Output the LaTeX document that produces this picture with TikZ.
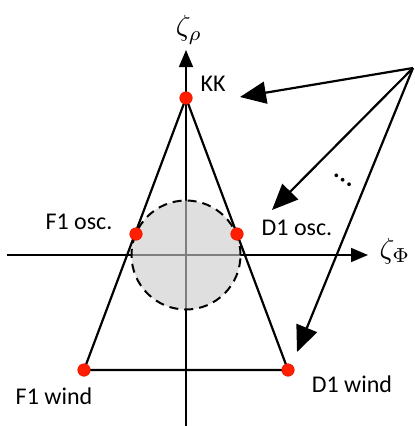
\documentclass[tikz,border=0pt]{standalone}
\usepackage{graphicx}
\usepackage{fontspec}
\setmainfont{Carlito}
\usetikzlibrary{arrows.meta}
\definecolor{dotred}{RGB}{255,30,0}
\definecolor{dotrim}{RGB}{235,20,0}
\definecolor{circfill}{gray}{0.8}
\begin{document}
\begin{tikzpicture}[x=1pt,y=-1pt,
  axis/.style={line width=1.6pt,-{Triangle[length=17pt,width=14pt]}},
  edge/.style={line width=2.2pt,line join=round},
  ptr/.style={line width=2.2pt,-{Triangle[length=26pt,width=22pt]}},
  dot/.style={circle,fill=dotred,draw=dotrim,line width=0.6pt,inner sep=0pt,minimum size=12.5pt},
  lab/.style={font=\fontsize{24}{28}\selectfont,inner sep=0pt},
  mlab/.style={inner sep=0pt}]
\useasboundingbox (0,0) rectangle (415,426);
% axes
\coordinate (ybot) at (186,426);
\coordinate (ytop) at (186,50);
\coordinate (xl) at (7,255);
\coordinate (xr) at (368,255);
\draw[axis] (ybot) -- (ytop);
\draw[axis] (xl) -- (xr);
\node[mlab] (zr) at (189,30) {\scalebox{2.9}{$\zeta_\rho$}};
\node[mlab] (zf) at (395,251) {\scalebox{2.9}{$\zeta_\Phi$}};
% circle
\coordinate (O) at (186,255);
\fill[circfill,opacity=0.62] (O) circle (54.5pt);
\draw[line width=2pt,dash pattern=on 9pt off 6pt] (O) circle (54.5pt);
% triangle
\coordinate (kkc) at (186,98);
\coordinate (f1wc) at (84,370);
\coordinate (d1wc) at (288,370);
\draw[edge] (kkc) -- (f1wc) -- (d1wc) -- cycle;
% points
\node[dot] (kk) at (kkc) {};
\node[dot] (f1o) at (136,234) {};
\node[dot] (d1o) at (237,234) {};
\node[dot] (f1w) at (f1wc) {};
\node[dot] (d1w) at (d1wc) {};
% labels
\node[lab] (lkk) at (213,84) {KK};
\node[lab] (lf1o) at (79,222) {F1 osc.};
\node[lab] (ld1o) at (297,228) {D1 osc.};
\node[lab] (lf1w) at (54,396) {F1 wind};
\node[lab] (ld1w) at (352,384) {D1 wind};
% pointers
\coordinate (src) at (413,68);
\coordinate (t1) at (240,97);
\coordinate (t2) at (272,210);
\coordinate (t3) at (297,352);
\draw[ptr] (src) -- (t1);
\draw[ptr] (src) -- (t2);
\draw[ptr] (src) -- (t3);
\node[font=\fontsize{31}{36}\selectfont,inner sep=0pt,rotate=-35,anchor=base] (ell) at (342,182) {…};
\end{tikzpicture}
\end{document}
